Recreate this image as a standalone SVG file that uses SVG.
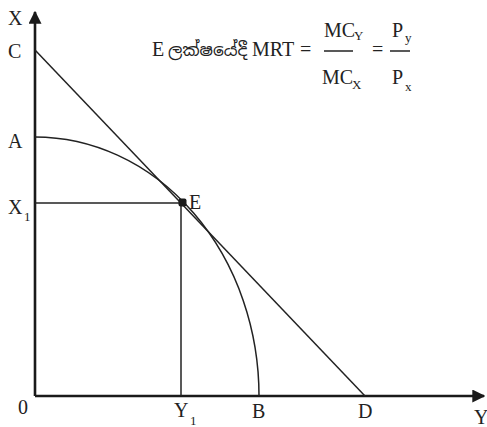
<svg xmlns="http://www.w3.org/2000/svg" width="487" height="427" viewBox="0 0 487 427">
<defs>
<marker id="arr" viewBox="0 0 10 10" refX="9" refY="5" markerWidth="5" markerHeight="5" orient="auto" markerUnits="strokeWidth">
<path d="M0,0 L10,5 L0,10 z" fill="#1a1a1a"/>
</marker>
<style>
.ax{stroke:#1a1a1a;stroke-width:2.6;fill:none}
.ln{stroke:#222;stroke-width:1.5;fill:none}
.t{font-family:"Liberation Serif","Times New Roman",serif;fill:#222;font-size:20px}
.s{font-size:13px}
.si{font-family:"Noto Sans Sinhala","Noto Sans","Liberation Serif",serif;fill:#222;font-size:17px}
</style>
</defs>
<rect width="487" height="427" fill="#ffffff"/>
<g id="connectors">
<path class="ax" d="M35,396 L35,12" marker-end="url(#arr)"/>
<path class="ax" d="M35,396 L484,396" marker-end="url(#arr)"/>
<path id="CD" class="ln" d="M35,50 L365,396"/>
<path id="AB" class="ln" d="M35,137 A224,259 0 0 1 259,396"/>
<path id="X1E" class="ln" d="M35,203 L183,203"/>
<path id="EY1" class="ln" d="M181,203 L181,396"/>
</g>
<g id="node-E">
<rect x="178.5" y="198.5" width="8" height="8" rx="2" fill="#1a1a1a"/>
<text class="t" x="189" y="209" font-size="19">E</text>
</g>
<g id="labels">
<text class="t" x="8" y="25">X</text>
<text class="t" x="8" y="58">C</text>
<text class="t" x="8" y="148">A</text>
<text class="t" x="8" y="214">X</text><text class="t s" x="24" y="221">1</text>
<text class="t" x="18" y="414">0</text>
<text class="t" x="174" y="417">Y</text><text class="t s" x="190" y="425">1</text>
<text class="t" x="252" y="418">B</text>
<text class="t" x="358" y="418">D</text>
<text class="t" x="474" y="424">Y</text>
</g>
<g id="formula">
<text class="t" x="152" y="56">E</text>
<text class="si" x="168" y="56">ලක්ෂයේදී</text>
<text class="t" x="252" y="56" font-size="21">MRT</text>
<text class="t" x="300" y="56">=</text>
<text class="t" x="324" y="37">MC</text><text class="t s" x="354" y="40">Y</text>
<line class="ln" x1="324" y1="51" x2="353" y2="51" stroke-width="1.2"/>
<text class="t" x="322" y="84">MC</text><text class="t s" x="352" y="89">X</text>
<text class="t" x="372" y="56">=</text>
<text class="t" x="392" y="37">P</text><text class="t s" x="405" y="42">y</text>
<line class="ln" x1="390" y1="51" x2="410" y2="51" stroke-width="1.2"/>
<text class="t" x="392" y="84">P</text><text class="t s" x="405" y="91">x</text>
</g>
</svg>
